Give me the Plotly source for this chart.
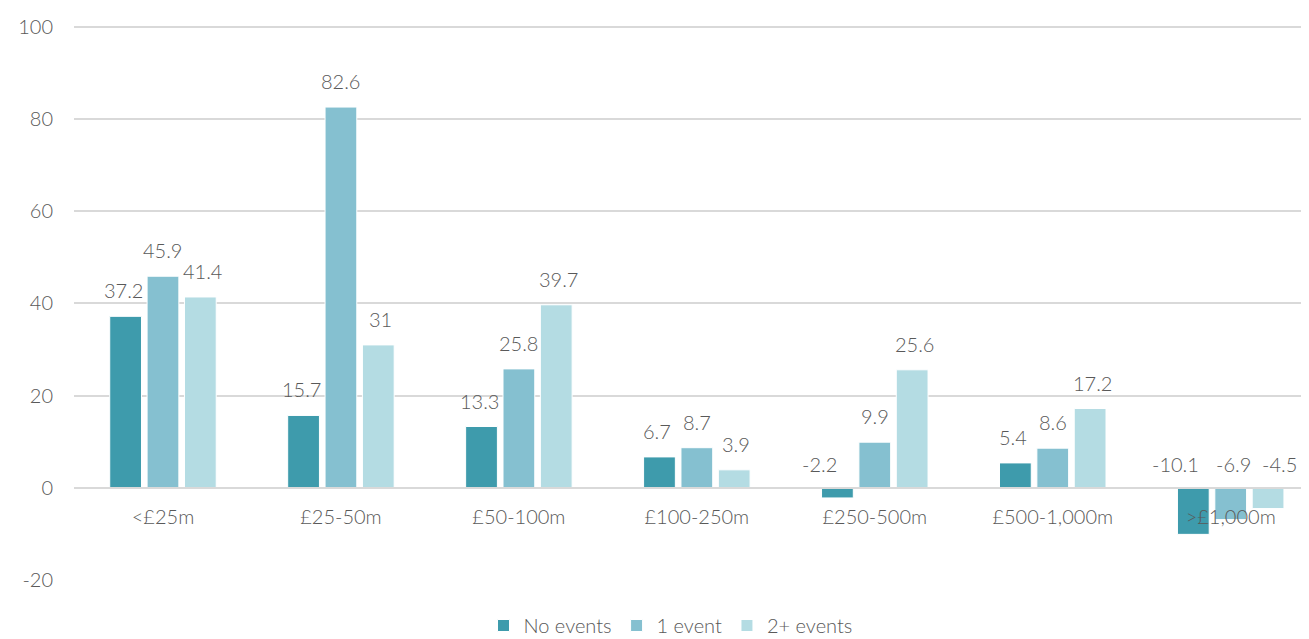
import plotly.graph_objects as go

categories = ["<£25m", "£25-50m", "£50-100m", "£100-250m", "£250-500m", "£500-1,000m", ">£1,000m"]
no_events = [37.2, 15.7, 13.3, 6.7, -2.2, 5.4, -10.1]
one_event = [45.9, 82.6, 25.8, 8.7, 9.9, 8.6, -6.9]
two_plus = [41.4, 31, 39.7, 3.9, 25.6, 17.2, -4.5]
series_names = ["No events", "1 event", "2+ events"]
colors = ["#3E9BAC", "#85C0D0", "#B4DCE3"]
y_ticks = [-20, 0, 20, 40, 60, 80, 100]
y_tick_text = ["-20", "0", "20", "40", "60", "80", "100"]

FONT = dict(family="Lato", size=20, color="#595959", weight=300)
PITCH = 39.5  # px between bar centres within a group

# extra horizontal nudges for crowded negative labels (label collision avoidance)
neg_nudge = {0: -16, 1: 3, 2: 9}

Y_MIN, Y_MAX = -20, 100.4

fig = go.Figure()
annotations = []
for si, (name, vals, col) in enumerate(zip(series_names, [no_events, one_event, two_plus], colors)):
    fig.add_trace(go.Bar(
        name=name, x=categories, y=vals,
        marker=dict(color=col, line=dict(color="white", width=1)),
        hoverinfo="x+y+name",
    ))
    for ci, v in enumerate(vals):
        if v >= 0:
            annotations.append(dict(
                x=ci, y=v, xref="x", yref="y", text=f"{v:g}", showarrow=False,
                yanchor="bottom", yshift=12, xshift=(si - 1) * PITCH, font=FONT))
        else:
            annotations.append(dict(
                x=ci, y=0, xref="x", yref="y", text=f"{v:g}", showarrow=False,
                yanchor="bottom", yshift=10, xshift=(si - 1) * PITCH + neg_nudge[si], font=FONT))

# the page body adds an 8px offset, so the figure is sized/placed to compensate
fig.update_layout(
    width=1301, height=631,
    margin=dict(l=66, r=0, t=17, b=59, autoexpand=False),
    paper_bgcolor="white", plot_bgcolor="white",
    barmode="group", bargap=0.37, bargroupgap=0.15,
    font=FONT,
    annotations=annotations,
    legend=dict(orientation="h", x=0.483, xanchor="center", y=-0.082, yanchor="middle",
                font=FONT, itemwidth=30, traceorder="normal"),
    showlegend=True,
)
fig.update_xaxes(
    range=[-0.5, 6.44], anchor="free", position=(0 - Y_MIN) / (Y_MAX - Y_MIN), automargin=False,
    showgrid=False, showline=True, linecolor="#D9D9D9", linewidth=2,
    ticks="", tickfont=FONT, ticklabelstandoff=11, zeroline=False,
)
fig.update_yaxes(
    range=[Y_MIN, Y_MAX], tickvals=y_ticks, ticktext=y_tick_text, automargin=False,
    showgrid=True, gridcolor="#D9D9D9", gridwidth=2,
    zeroline=False, showline=False, ticks="", tickfont=FONT, ticklabelstandoff=20,
)

fig.write_html("out.html")
